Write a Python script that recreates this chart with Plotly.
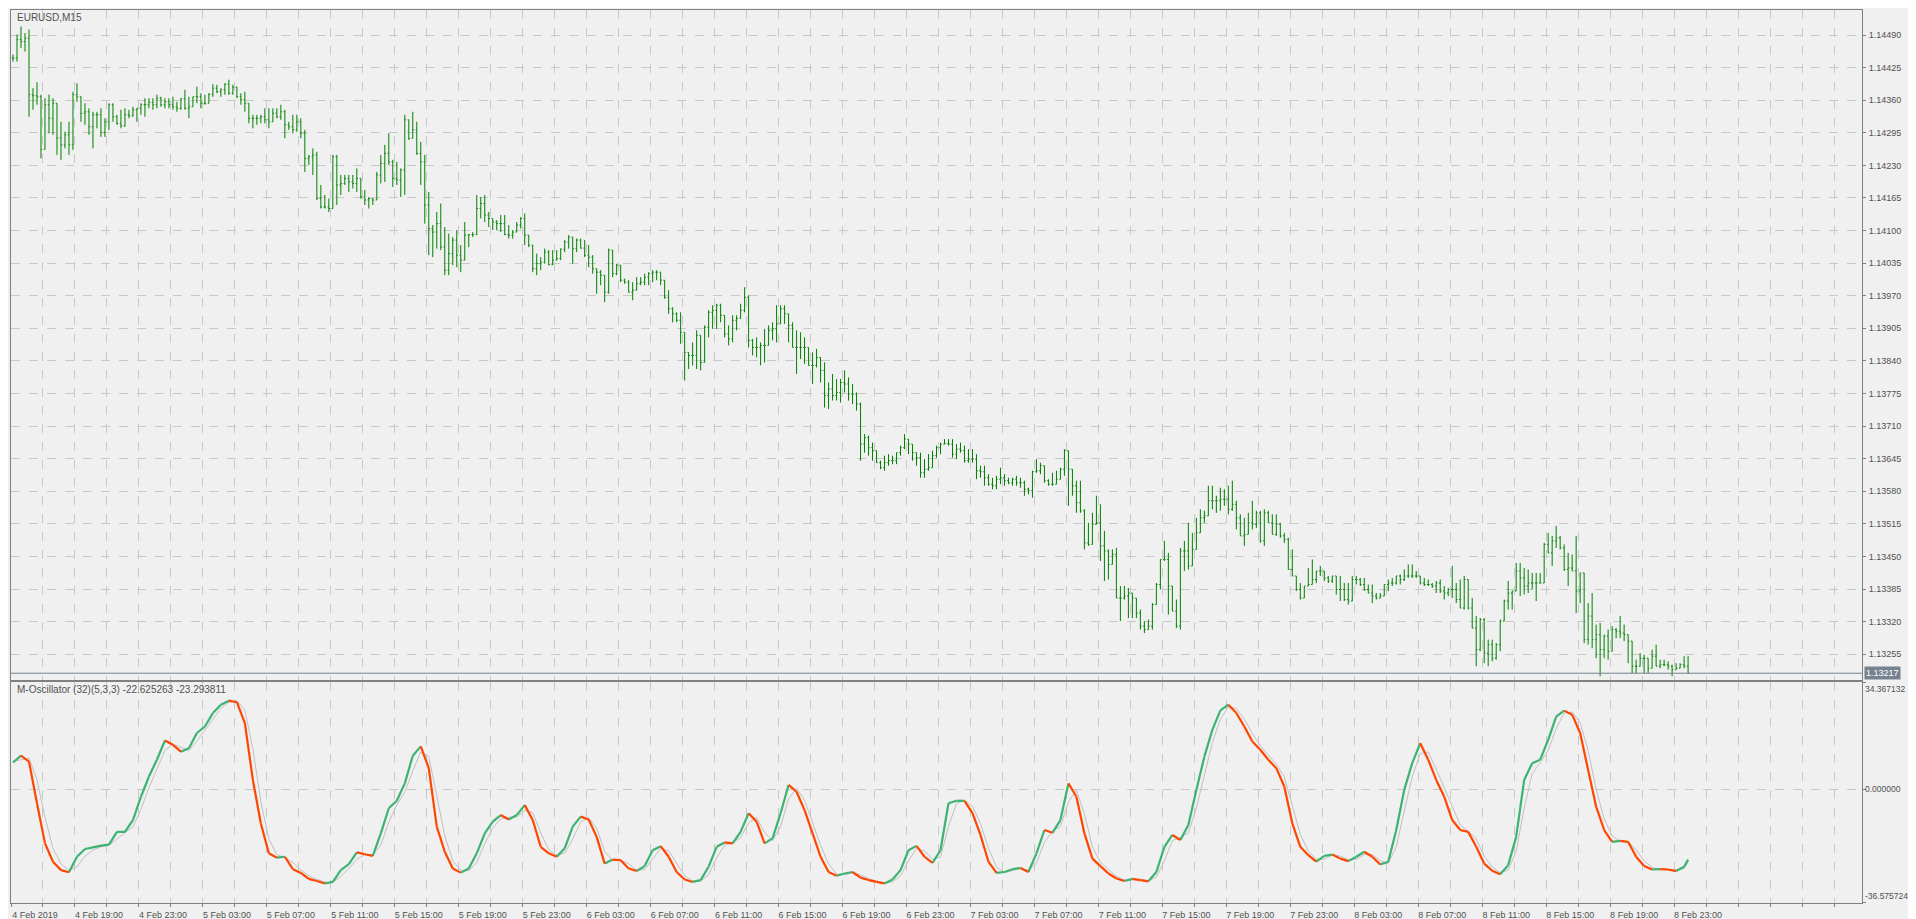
import pandas as pd
import plotly.graph_objects as go

# price in points above 1.13000 (1 point = 0.00001)
cl = [1444,1481,1477,1484,1371,1369,1367,1262,1351,1324,
      1354,1285,1271,1291,1271,1371,1367,1334,1337,1307,
      1331,1331,1296,1317,1351,1327,1314,1309,1331,1329,
      1341,1344,1351,1351,1356,1351,1364,1351,1357,1351,
      1347,1344,1363,1344,1347,1367,1367,1354,1354,1372,
      1384,1377,1381,1392,1374,1386,1367,1361,1354,1324,
      1324,1324,1327,1321,1317,1334,1327,1337,1311,1307,
      1301,1317,1294,1244,1247,1251,1164,1147,1147,1144,
      1247,1191,1194,1204,1197,1194,1204,1167,1161,1164,
      1161,1211,1234,1254,1237,1204,1201,1221,1321,1284,
      1301,1254,1237,1151,1104,1097,1114,1067,1021,1054,
      1081,1051,1041,1091,1092,1092,1144,1154,1131,1124,
      1117,1114,1114,1092,1091,1097,1111,1124,1091,1071,
      1024,1034,1037,1057,1032,1041,1044,1063,1077,1087,
      1064,1081,1065,1051,1047,1024,1017,1011,977,1061,
      1014,1031,1001,997,977,981,994,997,1007,1014,
      1017,1017,1001,967,944,934,921,897,857,851,
      851,891,837,907,937,941,951,931,894,884,
      921,925,941,967,881,867,867,871,871,901,
      904,914,944,934,911,867,867,867,867,831,
      831,847,821,771,784,771,777,797,794,774,
      774,754,674,687,667,661,637,627,637,641,
      641,657,667,684,674,657,647,617,624,627,
      651,667,674,675,674,654,664,661,641,644,
      644,621,619,607,594,591,604,607,601,597,
      604,597,597,584,581,619,621,631,601,594,
      594,604,624,661,624,591,557,541,477,474,
      514,517,471,461,434,454,367,367,371,377,
      367,337,311,304,311,354,394,444,444,391,
      341,311,461,461,431,464,497,527,531,561,
      561,561,564,564,544,554,527,491,494,517,
      514,537,481,537,517,494,514,491,484,424,
      411,384,367,391,394,404,421,421,407,401,
      411,384,384,364,361,404,404,394,384,377,
      371,367,371,394,397,397,411,404,411,411,
      411,411,397,394,394,391,397,381,377,384,
      384,364,347,404,347,307,264,324,257,274,
      247,274,321,361,377,381,421,407,391,397,
      397,397,397,474,457,481,487,467,424,427,
      421,381,417,284,331,284,294,264,291,261,
      304,301,297,294,281,231,231,247,247,227,
      251,231,234,234,231,224,227,234,231,217]

hi = [1451,1491,1507,1494,1501,1384,1396,1371,1364,1371,
      1364,1304,1317,1297,1317,1377,1394,1367,1354,1344,
      1337,1337,1344,1324,1354,1354,1331,1341,1344,1341,
      1347,1344,1354,1364,1364,1364,1371,1367,1364,1364,
      1367,1357,1364,1381,1367,1367,1387,1374,1371,1374,
      1392,1391,1384,1394,1401,1391,1387,1374,1377,1354,
      1331,1331,1331,1344,1344,1344,1344,1351,1341,1317,
      1331,1331,1324,1301,1251,1264,1257,1191,1171,1164,
      1251,1251,1211,1211,1211,1211,1224,1194,1181,1167,
      1164,1217,1251,1271,1294,1241,1237,1224,1331,1321,
      1337,1317,1277,1251,1177,1111,1137,1154,1107,1094,
      1087,1101,1071,1117,1091,1097,1171,1167,1171,1137,
      1124,1121,1131,1131,1111,1101,1117,1127,1134,1091,
      1071,1054,1047,1064,1061,1061,1061,1064,1081,1091,
      1087,1084,1084,1081,1071,1051,1024,1021,1011,1064,
      1061,1034,1031,1004,1001,997,1007,1007,1014,1017,
      1021,1021,1011,997,981,947,937,937,897,857,
      877,901,891,911,941,951,954,954,931,911,
      931,931,954,987,971,884,887,877,904,911,
      917,951,951,951,934,917,901,897,887,864,
      857,864,847,837,797,814,804,804,821,807,
      794,777,757,694,691,677,661,641,651,654,
      651,657,671,694,684,661,657,657,644,654,
      661,671,677,684,684,684,674,677,671,664,
      664,654,631,631,614,607,611,627,614,607,
      607,611,607,601,587,621,644,637,621,604,
      617,621,627,664,661,597,601,601,544,517,
      537,571,554,501,464,464,467,391,391,387,
      371,367,344,321,324,357,397,444,481,457,
      391,364,467,481,517,497,527,544,541,591,
      591,571,587,584,591,601,561,534,527,537,
      561,541,541,544,541,534,534,517,497,487,
      464,411,397,391,427,444,421,431,421,411,
      411,411,411,397,397,411,411,407,407,394,
      394,377,377,394,404,407,411,414,424,434,
      434,421,407,407,404,397,401,404,391,387,
      431,397,404,411,404,367,331,327,327,284,
      284,277,324,364,401,381,437,437,427,424,
      417,417,417,477,497,491,511,491,474,457,
      454,491,417,417,357,377,314,317,294,304,
      311,307,331,314,281,251,244,257,254,247,
      264,274,244,244,241,234,237,237,251,251]

lo = [1437,1437,1464,1457,1327,1341,1351,1244,1264,1294,
      1291,1251,1241,1264,1251,1261,1357,1317,1311,1291,
      1264,1304,1287,1287,1301,1317,1311,1304,1307,1324,
      1327,1317,1331,1327,1344,1341,1344,1347,1344,1344,
      1341,1337,1341,1341,1324,1351,1354,1344,1351,1357,
      1367,1374,1367,1371,1371,1371,1364,1351,1337,1314,
      1304,1311,1314,1314,1304,1324,1324,1321,1284,1301,
      1294,1297,1284,1217,1231,1211,1161,1144,1144,1137,
      1144,1151,1171,1191,1177,1184,1177,1164,1151,1144,
      1151,1197,1194,1197,1231,1187,1191,1167,1171,1281,
      1284,1251,1191,1114,1051,1047,1064,1061,1011,1011,
      1031,1027,1017,1041,1067,1087,1091,1124,1117,1107,
      1101,1101,1097,1091,1084,1084,1097,1104,1071,1067,
      1017,1011,1021,1034,1031,1031,1041,1041,1057,1064,
      1034,1057,1064,1047,1027,1014,974,991,957,974,
      1007,1011,997,994,977,961,981,991,991,991,
      997,1001,991,964,934,917,917,874,801,824,
      831,824,821,837,887,904,904,917,887,871,
      877,901,927,937,867,851,847,831,837,877,
      881,877,914,914,877,867,814,844,834,831,
      794,827,797,747,744,761,761,757,777,761,
      754,741,641,657,651,641,637,624,621,631,
      634,634,651,664,654,641,631,607,607,621,
      627,647,654,674,671,647,644,657,637,637,
      637,604,607,591,591,584,584,594,591,594,
      591,591,587,571,574,567,617,614,597,591,
      591,594,604,611,551,571,537,537,464,471,
      507,517,441,401,404,437,367,321,364,327,
      327,327,304,297,304,304,354,384,441,334,
      344,307,304,421,424,444,467,497,517,534,
      544,537,541,551,534,541,504,491,471,514,
      504,507,477,471,517,494,491,487,477,424,
      411,381,364,367,391,394,397,411,401,397,
      397,374,361,361,354,391,394,391,381,377,
      357,364,367,371,381,391,394,394,401,407,
      407,407,394,391,391,387,377,377,364,371,
      367,357,347,344,344,307,231,261,237,231,
      241,244,261,321,344,344,384,371,374,377,
      384,361,397,431,457,431,467,464,421,391,
      421,337,357,277,274,267,247,211,247,244,
      291,287,287,281,237,217,217,231,217,217,
      227,231,227,231,224,211,224,231,227,217]

# oscillator samples, every 2nd bar plus the last bar
osc_main = [8.6,10.8,8.9,-4.5,-17.4,-23.3,-26.0,-26.7,-21.7,-19.2,
            -18.7,-18.1,-17.8,-13.7,-13.7,-9.9,-2.4,4.1,9.5,15.7,
            14.3,12.1,13.2,18.1,20.2,24.5,27.2,28.5,28.0,21.3,
            3.0,-11.0,-20.6,-22.0,-21.7,-25.7,-26.9,-28.8,-29.5,-30.3,
            -29.8,-26.0,-24.1,-20.3,-20.9,-21.4,-14.2,-6.1,-3.7,1.9,
            10.8,13.8,6.8,-12.0,
            -20.1,-25.5,-26.8,-25.5,-20.6,-14.2,-10.4,-8.3,-9.7,-8.3,
            -5.1,-9.9,-18.5,-20.6,-21.7,-19.0,-12.0,-8.8,-9.7,-15.3,
            -23.9,-22.6,-22.8,-25.5,-26.3,-24.7,-19.6,-18.3,-21.7,-26.6,
            -29.0,-29.8,-29.2,-24.9,-18.5,-17.1,-17.4,-13.7,-7.7,-10.4,
            -17.4,-15.8,-7.7,1.4,-0.8,-6.7,-14.2,-21.7,-26.6,-27.8,
            -27.1,-26.6,-28.4,-29.2,
            -29.8,-30.3,-29.0,-26.0,-19.6,-18.2,-21.7,-23.7,-19.6,-4.5,
            -3.7,-3.7,-7.7,-14.7,-23.3,-26.9,-26.6,-25.7,-25.3,-26.6,
            -20.6,-13.1,-14.0,-9.9,1.9,-2.4,-14.2,-22.3,-24.7,-27.1,
            -28.7,-29.5,-28.8,-29.2,-29.6,-26.6,-18.5,-14.7,-16.3,-11.5,
            -0.2,10.5,19.1,25.4,27.2,24.5,20.2,15.4,12.7,9.5,
            6.8,0.9,-11.0,-18.5,
            -21.2,-23.3,-21.4,-21.0,-22.3,-23.1,-21.7,-20.1,-21.7,-24.2,
            -23.3,-13.1,-0.2,8.4,14.8,9.5,3.0,-2.4,-9.9,-13.1,
            -13.7,-18.5,-23.9,-26.2,-27.3,-24.4,-15.3,3.0,8.4,9.5,
            15.9,23.4,25.3,24.0,18.1,6.2,-5.6,-13.1,-16.9,-16.6,
            -16.9,-21.7,-24.7,-25.8,-25.7,-25.8,-26.3,-24.9,
            -22.625263]

osc_signal = [9.0,9.5,10.0,3.0,-9.0,-19.0,-24.0,-26.0,-25.0,-21.5,
              -19.5,-18.5,-18.0,-16.0,-14.0,-12.0,-6.5,0.5,6.5,12.5,
              14.5,13.5,12.5,15.5,19.0,22.5,26.0,28.0,28.5,25.5,
              13.0,-4.0,-16.0,-21.0,-22.0,-23.5,-26.0,-27.8,-29.0,-29.8,
              -30.0,-28.0,-25.5,-22.5,-21.0,-21.0,-18.0,-10.5,-5.0,-1.0,
              6.0,12.0,10.5,-2.0,
              -15.0,-23.0,-26.0,-26.2,-23.5,-17.5,-12.5,-9.5,-9.0,-9.0,
              -6.8,-7.5,-14.0,-19.5,-21.2,-20.5,-16.0,-10.5,-9.2,-12.5,
              -20.0,-23.0,-22.8,-24.0,-26.0,-25.8,-22.5,-19.0,-19.8,-24.0,
              -27.8,-29.5,-29.5,-27.5,-22.0,-18.0,-17.2,-15.5,-10.8,-9.0,
              -14.0,-16.5,-12.0,-3.0,0.3,-3.5,-10.5,-18.0,-24.0,-27.3,
              -27.5,-26.9,-27.5,-28.8,
              -29.5,-30.0,-29.8,-27.8,-23.0,-19.0,-19.8,-22.5,-21.8,-12.0,
              -4.5,-3.7,-5.5,-11.0,-19.0,-25.0,-26.8,-26.2,-25.5,-26.0,
              -23.8,-17.0,-13.5,-12.0,-4.0,-0.2,-8.0,-18.5,-23.5,-25.8,
              -28.0,-29.2,-29.2,-29.0,-29.4,-28.2,-23.0,-16.5,-15.5,-14.0,
              -6.0,5.0,15.0,22.5,26.5,26.0,22.5,18.0,14.0,11.0,
              8.0,4.0,-5.0,-14.5,
              -20.0,-22.5,-22.5,-21.2,-21.5,-22.7,-22.5,-21.0,-21.0,-23.0,
              -23.8,-18.5,-7.0,4.0,11.5,12.0,6.5,0.5,-6.0,-11.5,
              -13.5,-16.0,-21.5,-25.0,-26.8,-26.0,-20.0,-6.0,5.0,8.5,
              12.5,19.5,24.5,24.8,21.5,12.5,0.0,-9.5,-15.0,-16.8,
              -16.8,-19.5,-23.0,-25.2,-25.8,-25.8,-26.0,-25.5,
              -23.293811]

price_ticks = [1.13255 + 0.00065 * k for k in range(20)]
osc_ticks = [-36.575724, 0.0, 34.367132]
last_price = 1.13217

# bars
n = len(cl)
bx = list(range(n))
c = [1.13 + v / 1e5 for v in cl]
o = [c[0]] + c[:-1]
h = [max(1.13 + hi[i] / 1e5, o[i], c[i]) for i in range(n)]
l = [min(1.13 + lo[i] / 1e5, o[i], c[i]) for i in range(n)]
times = pd.date_range('2019-02-04 15:00', periods=n, freq='15min')

ox = list(range(0, n, 2)) + [n - 1]
ox = ox[:len(osc_main)]

fig = go.Figure()
fig.add_trace(go.Ohlc(x=bx, open=o, high=h, low=l, close=c,
                      increasing_line_color='#008000', decreasing_line_color='#008000',
                      line_width=1, tickwidth=0.3, xaxis='x', yaxis='y',
                      showlegend=False, hoverinfo='skip'))

# signal line
fig.add_trace(go.Scatter(x=ox, y=osc_signal[:len(ox)], mode='lines',
                         line=dict(color='#c0c0c0', width=1),
                         xaxis='x2', yaxis='y2', showlegend=False, hoverinfo='skip'))

# main line coloured by direction
gx, gy, rx, ry = [], [], [], []
for i in range(1, len(ox)):
    seg_x = [ox[i - 1], ox[i], None]
    seg_y = [osc_main[i - 1], osc_main[i], None]
    if osc_main[i] >= osc_main[i - 1]:
        gx += seg_x; gy += seg_y
    else:
        rx += seg_x; ry += seg_y
fig.add_trace(go.Scatter(x=gx, y=gy, mode='lines', line=dict(color='#3cb371', width=2.2),
                         xaxis='x2', yaxis='y2', showlegend=False, hoverinfo='skip'))
fig.add_trace(go.Scatter(x=rx, y=ry, mode='lines', line=dict(color='#ff4500', width=2.2),
                         xaxis='x2', yaxis='y2', showlegend=False, hoverinfo='skip'))

# x ticks: grid every 8 bars, labels every 16
gvals, gtext = [], []
for k in range(0, 58):
    i = 8 * k
    gvals.append(i - 0.5)
    if k % 2 == 0 and i < n:
        t = times[i]
        gtext.append('4 Feb 2019' if k == 0 else f'{t.day} Feb {t:%H:%M}')
    else:
        gtext.append('')

font = dict(family='Liberation Sans', size=10, color='#505050')
small = dict(family='Liberation Sans', size=9, color='#505050')
tiny = dict(family='Liberation Sans', size=8.5, color='#505050')
grid = dict(showgrid=True, gridcolor='#c8c8c8', griddash='dash', gridwidth=1)
xr = [-0.5, 462.5]

# oscillator axis labels: top one sits below its tick, bottom one above
osc_labels = []
for v, anc in zip(osc_ticks, ['bottom', 'middle', 'top']):
    osc_labels.append(dict(text=f'{v:.6f}', xref='paper', yref='y2', x=1.0, y=v,
                           xanchor='left', yanchor=anc, xshift=1, showarrow=False, font=tiny))

fig.update_layout(
    width=1916, height=919,
    margin=dict(l=3, r=62, t=2, b=24),
    paper_bgcolor='#f0f0f0', plot_bgcolor='#f0f0f0',
    font=small,
    xaxis=dict(domain=[0, 1], range=xr, tickvals=gvals, ticktext=['']*len(gvals),
               showline=True, mirror=True, linecolor='#808080', ticks='',
               rangeslider=dict(visible=False), zeroline=False, **grid),
    yaxis=dict(domain=[0.25, 1], range=[1.13204, 1.14540], side='right',
               tickvals=price_ticks, ticktext=[f'{v:.5f}' for v in price_ticks],
               ticks='outside', ticklen=3, tickcolor='#808080', ticklabelstandoff=1,
               showline=True, mirror=True, linecolor='#808080', zeroline=False, **grid),
    xaxis2=dict(domain=[0, 1], range=xr, anchor='y2', tickvals=gvals, ticktext=gtext,
                ticks='outside', ticklen=3, tickcolor='#808080', ticklabelshift=24,
                ticklabelstandoff=0,
                showline=True, mirror=True, linecolor='#808080', zeroline=False, **grid),
    yaxis2=dict(domain=[0, 0.247], range=[-36.575724, 34.367132], side='right', anchor='x2',
                tickvals=osc_ticks, ticktext=['', '', ''],
                ticks='outside', ticklen=3, tickcolor='#808080',
                showline=True, mirror=True, linecolor='#808080', zeroline=False, **grid),
    shapes=[dict(type='line', xref='paper', yref='y', x0=0, x1=1,
                 y0=last_price, y1=last_price, line=dict(color='#748290', width=1))],
    annotations=[
        dict(text='EURUSD,M15', xref='paper', yref='paper', x=0.002, y=1.0,
             xanchor='left', yanchor='top', showarrow=False, font=font),
        dict(text='M-Oscillator (32)(5,3,3) -22.625263 -23.293811', xref='paper', yref='paper',
             x=0.002, y=0.247, xanchor='left', yanchor='top', showarrow=False, font=font),
        dict(text=f'{last_price:.5f}', xref='paper', yref='y', x=1.0, y=last_price,
             xanchor='left', yanchor='middle', xshift=2, showarrow=False, bgcolor='#76828f',
             font=dict(family='Liberation Sans', size=9, color='white'), borderpad=1),
    ] + osc_labels,
)

fig.write_html('out.html')
